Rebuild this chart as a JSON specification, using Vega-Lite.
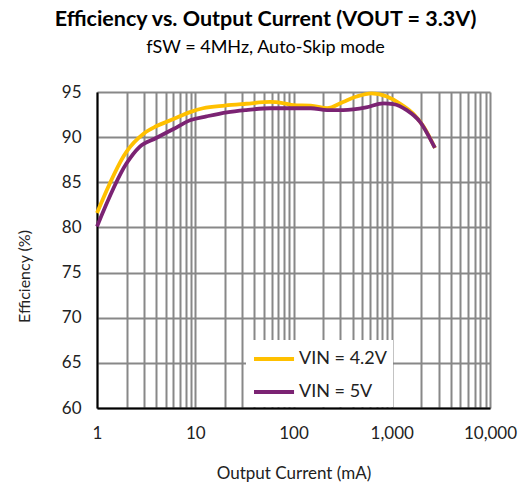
{
  "$schema": "https://vega.github.io/schema/vega-lite/v6.json",
  "width": 393,
  "height": 316,
  "autosize": "none",
  "padding": {"left": 97, "top": 92, "right": 38, "bottom": 76},
  "background": "white",
  "title": {
    "text": "Efficiency vs. Output Current (VOUT = 3.3V)",
    "subtitle": "fSW = 4MHz, Auto-Skip mode",
    "font": "Lato",
    "fontSize": 21.5,
    "fontWeight": "bold",
    "color": "black",
    "subtitleFont": "Lato",
    "subtitleFontSize": 18,
    "subtitleColor": "black",
    "subtitlePadding": 9,
    "anchor": "middle",
    "dx": -28,
    "offset": 26
  },
  "config": {"view": {"stroke": null}},
  "data": {
    "values": [
      {"current": 1, "eff": 81.6, "series": "VIN = 4.2V"},
      {"current": 2, "eff": 88.4, "series": "VIN = 4.2V"},
      {"current": 3, "eff": 90.4, "series": "VIN = 4.2V"},
      {"current": 4, "eff": 91.2, "series": "VIN = 4.2V"},
      {"current": 6, "eff": 92.0, "series": "VIN = 4.2V"},
      {"current": 9, "eff": 92.8, "series": "VIN = 4.2V"},
      {"current": 12, "eff": 93.2, "series": "VIN = 4.2V"},
      {"current": 20, "eff": 93.5, "series": "VIN = 4.2V"},
      {"current": 33, "eff": 93.7, "series": "VIN = 4.2V"},
      {"current": 58, "eff": 93.9, "series": "VIN = 4.2V"},
      {"current": 80, "eff": 93.75, "series": "VIN = 4.2V"},
      {"current": 100, "eff": 93.55, "series": "VIN = 4.2V"},
      {"current": 150, "eff": 93.5, "series": "VIN = 4.2V"},
      {"current": 220, "eff": 93.2, "series": "VIN = 4.2V"},
      {"current": 320, "eff": 93.9, "series": "VIN = 4.2V"},
      {"current": 440, "eff": 94.5, "series": "VIN = 4.2V"},
      {"current": 620, "eff": 94.85, "series": "VIN = 4.2V"},
      {"current": 890, "eff": 94.5, "series": "VIN = 4.2V"},
      {"current": 1200, "eff": 93.75, "series": "VIN = 4.2V"},
      {"current": 1650, "eff": 92.6, "series": "VIN = 4.2V"},
      {"current": 2100, "eff": 91.2, "series": "VIN = 4.2V"},
      {"current": 2750, "eff": 88.8, "series": "VIN = 4.2V"},
      {"current": 1, "eff": 80.1, "series": "VIN = 5V"},
      {"current": 2, "eff": 87.1, "series": "VIN = 5V"},
      {"current": 2.7, "eff": 88.9, "series": "VIN = 5V"},
      {"current": 4, "eff": 89.9, "series": "VIN = 5V"},
      {"current": 6, "eff": 90.9, "series": "VIN = 5V"},
      {"current": 9, "eff": 91.9, "series": "VIN = 5V"},
      {"current": 13, "eff": 92.3, "series": "VIN = 5V"},
      {"current": 21, "eff": 92.75, "series": "VIN = 5V"},
      {"current": 33, "eff": 93.0, "series": "VIN = 5V"},
      {"current": 58, "eff": 93.2, "series": "VIN = 5V"},
      {"current": 90, "eff": 93.2, "series": "VIN = 5V"},
      {"current": 150, "eff": 93.2, "series": "VIN = 5V"},
      {"current": 220, "eff": 93.0, "series": "VIN = 5V"},
      {"current": 320, "eff": 93.0, "series": "VIN = 5V"},
      {"current": 550, "eff": 93.3, "series": "VIN = 5V"},
      {"current": 820, "eff": 93.75, "series": "VIN = 5V"},
      {"current": 1040, "eff": 93.67, "series": "VIN = 5V"},
      {"current": 1420, "eff": 93.0, "series": "VIN = 5V"},
      {"current": 1940, "eff": 91.7, "series": "VIN = 5V"},
      {"current": 2750, "eff": 88.8, "series": "VIN = 5V"}
    ]
  },
  "mark": {"type": "line", "interpolate": "monotone", "strokeWidth": 3.8},
  "encoding": {
    "x": {
      "field": "current",
      "type": "quantitative",
      "scale": {"type": "log", "domain": [1, 10000]},
      "axis": {
        "values": [1,2,3,4,5,6,7,8,9,10,20,30,40,50,60,70,80,90,100,200,300,400,500,600,700,800,900,1000,2000,3000,4000,5000,6000,7000,8000,9000,10000],
        "labelExpr": "indexof([1,10,100,1000,10000], datum.value) >= 0 ? format(datum.value, ',') : ''",
        "labelOverlap": false,
        "labelFlush": false,
        "ticks": false,
        "grid": true,
        "gridColor": "#888888",
        "gridWidth": 2,
        "domainColor": "black",
        "domainWidth": 2,
        "labelFont": "Lato",
        "labelFontSize": 17,
        "labelColor": "#222222",
        "labelPadding": 17,
        "title": "Output Current (mA)",
        "titleFont": "Lato",
        "titleFontSize": 17,
        "titleFontWeight": "normal",
        "titleColor": "#222222",
        "titlePadding": 24
      }
    },
    "y": {
      "field": "eff",
      "type": "quantitative",
      "scale": {"domain": [60, 95], "nice": false, "zero": false},
      "axis": {
        "values": [60,65,70,75,80,85,90,95],
        "ticks": false,
        "grid": true,
        "gridColor": "#888888",
        "gridWidth": 2,
        "domainColor": "black",
        "domainWidth": 2,
        "labelFont": "Lato",
        "labelFontSize": 17,
        "labelColor": "#222222",
        "labelPadding": 16,
        "title": "Efficiency (%)",
        "titleFont": "Lato",
        "titleFontSize": 16,
        "titleFontWeight": "normal",
        "titleColor": "#222222",
        "titlePadding": 29,
        "titleY": 184
      }
    },
    "color": {
      "field": "series",
      "type": "nominal",
      "scale": {"domain": ["VIN = 4.2V", "VIN = 5V"], "range": ["#FFC000", "#7B2373"]},
      "legend": {
        "orient": "none",
        "legendX": 149,
        "legendY": 248,
        "fillColor": "white",
        "padding": 6,
        "title": null,
        "symbolType": "M-1,0H2.64",
        "symbolSize": 484,
        "symbolStrokeWidth": 3.8,
        "labelFont": "Lato",
        "labelFontSize": 18,
        "labelColor": "#222222",
        "labelOffset": 21,
        "rowPadding": 11
      }
    }
  }
}
